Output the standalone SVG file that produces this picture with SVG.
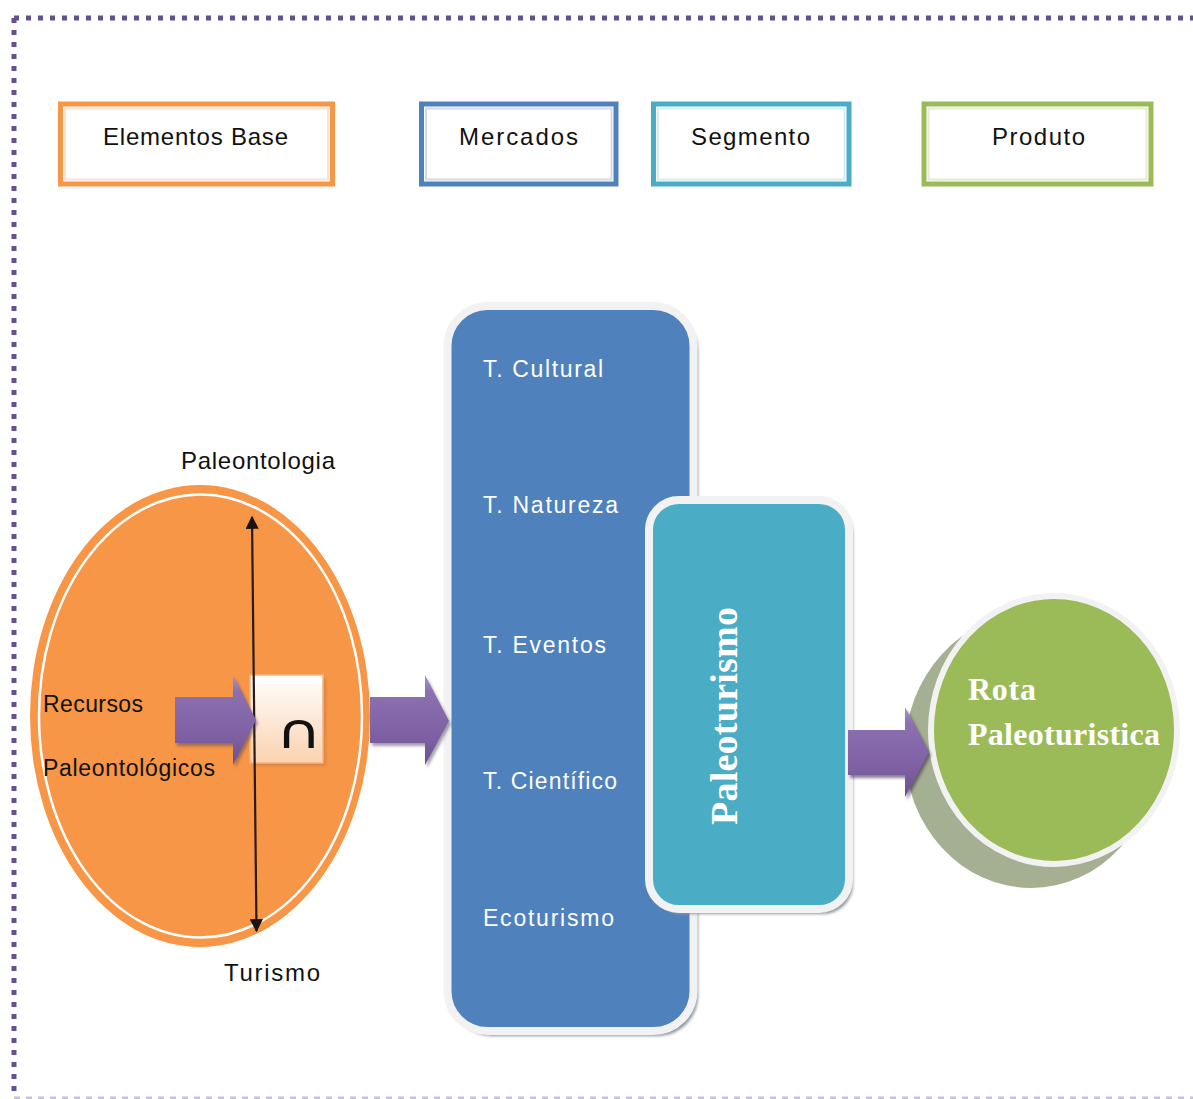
<svg xmlns="http://www.w3.org/2000/svg" width="1193" height="1099" viewBox="0 0 1193 1099">
<defs>
<style>
.lbl{font-family:"Liberation Sans",Arial,sans-serif;font-size:23px;fill:#111}
.wt{font-family:"Liberation Sans",Arial,sans-serif;font-size:23px;fill:#fff}
.sf{font-family:"Liberation Serif","Times New Roman",serif;font-weight:bold;fill:#fff}
.hdr{fill:#fff;stroke-width:5}
</style>
<linearGradient id="pg" x1="0" y1="0" x2="0" y2="1">
<stop offset="0" stop-color="#a896c8"/>
<stop offset="0.18" stop-color="#8c70b0"/>
<stop offset="0.7" stop-color="#7e60a2"/>
<stop offset="1" stop-color="#6a508f"/>
</linearGradient>
<linearGradient id="bx" x1="0" y1="0" x2="0" y2="1">
<stop offset="0" stop-color="#ffffff"/>
<stop offset="1" stop-color="#fbd2b0"/>
</linearGradient>
<filter id="blur" x="-10%" y="-10%" width="120%" height="120%"><feGaussianBlur stdDeviation="1.5"/></filter>
<marker id="ah" viewBox="0 0 10 10" refX="9" refY="5" markerWidth="7" markerHeight="6" orient="auto-start-reverse" markerUnits="strokeWidth">
<path d="M0,0 L10,5 L0,10 Z" fill="#1c1410"/>
</marker>
</defs>
<rect width="1193" height="1099" fill="#fff"/>

<g id="border">
<path d="M14 18 H1193 M14 18 V1096" fill="none" stroke="#64508f" stroke-width="5" stroke-dasharray="5 7"/>
<path d="M14 1098 H1193" fill="none" stroke="#c9bfdc" stroke-width="3" stroke-dasharray="6 6"/>
</g>

<g id="h-elementos">
<rect x="60.5" y="104" width="272" height="80" class="hdr" stroke="#f79646"/>
<rect x="65" y="108.5" width="263" height="71" fill="none" stroke="#fbe3d2" stroke-width="2"/>
<text x="103" y="145" class="lbl" textLength="185" lengthAdjust="spacing" style="font-size:24px">Elementos Base</text>
</g>
<g id="h-mercados">
<rect x="421.5" y="104" width="194.5" height="80" class="hdr" stroke="#4f81bd"/>
<rect x="426" y="108.5" width="185.5" height="71" fill="none" stroke="#d0dbea" stroke-width="2"/>
<text x="459" y="145" class="lbl" textLength="119" lengthAdjust="spacing" style="font-size:24px">Mercados</text>
</g>
<g id="h-segmento">
<rect x="653.5" y="104" width="195.5" height="80" class="hdr" stroke="#4bacc6"/>
<rect x="658" y="108.5" width="186.5" height="71" fill="none" stroke="#d4ecf2" stroke-width="2"/>
<text x="691" y="145" class="lbl" textLength="119" lengthAdjust="spacing" style="font-size:24px">Segmento</text>
</g>
<g id="h-produto">
<rect x="924" y="104" width="227" height="80" class="hdr" stroke="#9bbb59"/>
<rect x="928.5" y="108.5" width="218" height="71" fill="none" stroke="#e3ecd2" stroke-width="2"/>
<text x="992" y="145" class="lbl" textLength="93" lengthAdjust="spacing" style="font-size:24px">Produto</text>
</g>

<g id="elementos-base">
<ellipse cx="200" cy="716" rx="170" ry="231" fill="#f79646"/>
<ellipse cx="200.5" cy="716" rx="161.5" ry="221.5" fill="none" stroke="#fff" stroke-width="2.5"/>
<text x="181" y="469" class="lbl" textLength="154" lengthAdjust="spacing" style="font-size:24px">Paleontologia</text>
<text x="224" y="981" class="lbl" textLength="96" lengthAdjust="spacing" style="font-size:24px">Turismo</text>
<text x="43" y="712" class="lbl" textLength="100" lengthAdjust="spacing">Recursos</text>
<text x="43" y="776" class="lbl" textLength="172" lengthAdjust="spacing">Paleontológicos</text>
</g>

<g id="intersecao">
<rect x="253" y="678" width="73" height="88" fill="#c47a45" opacity="0.6" filter="url(#blur)"/>
<rect x="250" y="675" width="73" height="88" fill="url(#bx)" stroke="#f7b383" stroke-width="1.5"/>
<text transform="translate(299,748) scale(1.5,1.15)" text-anchor="middle" style="font-family:'DejaVu Sans',sans-serif;font-size:42px;fill:#111">∩</text>
</g>

<g id="mercados">
<rect x="452" y="311" width="246" height="725" rx="40" fill="#8d96a2" filter="url(#blur)"/>
<rect x="447.5" y="306" width="246" height="725" rx="40" fill="#4f81bd" stroke="#f2f2f2" stroke-width="8"/>
<text x="483" y="377" class="wt" textLength="120" lengthAdjust="spacing">T. Cultural</text>
<text x="483" y="513" class="wt" textLength="135" lengthAdjust="spacing">T. Natureza</text>
<text x="483" y="653" class="wt" textLength="123" lengthAdjust="spacing">T. Eventos</text>
<text x="483" y="789" class="wt" textLength="134" lengthAdjust="spacing">T. Científico</text>
<text x="483" y="926" class="wt" textLength="131" lengthAdjust="spacing">Ecoturismo</text>
</g>

<g id="segmento">
<rect x="652" y="504" width="201" height="410" rx="30" fill="#8d96a2" filter="url(#blur)"/>
<rect x="649" y="500" width="200" height="409" rx="30" fill="#4bacc6" stroke="#f2f2f2" stroke-width="8"/>
<text transform="translate(737,716) rotate(-90)" text-anchor="middle" class="sf" style="font-size:38px" textLength="218" lengthAdjust="spacing">Paleoturismo</text>
</g>

<g id="produto">
<ellipse cx="1031" cy="751" rx="126" ry="137" fill="#a5af92"/>
<ellipse cx="1054" cy="730" rx="123" ry="134" fill="#9bbb59" stroke="#f2f2f2" stroke-width="6"/>
<text x="968" y="700" class="sf" style="font-size:32px" textLength="68" lengthAdjust="spacing">Rota</text>
<text x="968" y="745" class="sf" style="font-size:32px" textLength="192" lengthAdjust="spacing">Paleoturistica</text>
</g>

<g id="connectors">
<line x1="252" y1="517" x2="256.5" y2="931" stroke="#2a1a10" stroke-width="2.2" marker-start="url(#ah)" marker-end="url(#ah)"/>
<path d="M177 700 H235 V678 L258 723 L235 768 V746 H177 Z" fill="#4a3f5c" opacity="0.5" filter="url(#blur)"/>
<path d="M175 697 H233 V675 L256 720 L233 765 V743 H175 Z" fill="url(#pg)"/>
<path d="M372 700 H427 V678 L451 724 L427 768 V746 H372 Z" fill="#4a3f5c" opacity="0.5" filter="url(#blur)"/>
<path d="M370 697 H425 V675 L449 721 L425 765 V743 H370 Z" fill="url(#pg)"/>
<path d="M850 733 H907 V710 L931 755 L907 800 V778 H850 Z" fill="#3a2f4c" opacity="0.6" filter="url(#blur)"/>
<path d="M848 730 H905 V707 L929 752 L905 797 V775 H848 Z" fill="url(#pg)"/>
</g>
</svg>
